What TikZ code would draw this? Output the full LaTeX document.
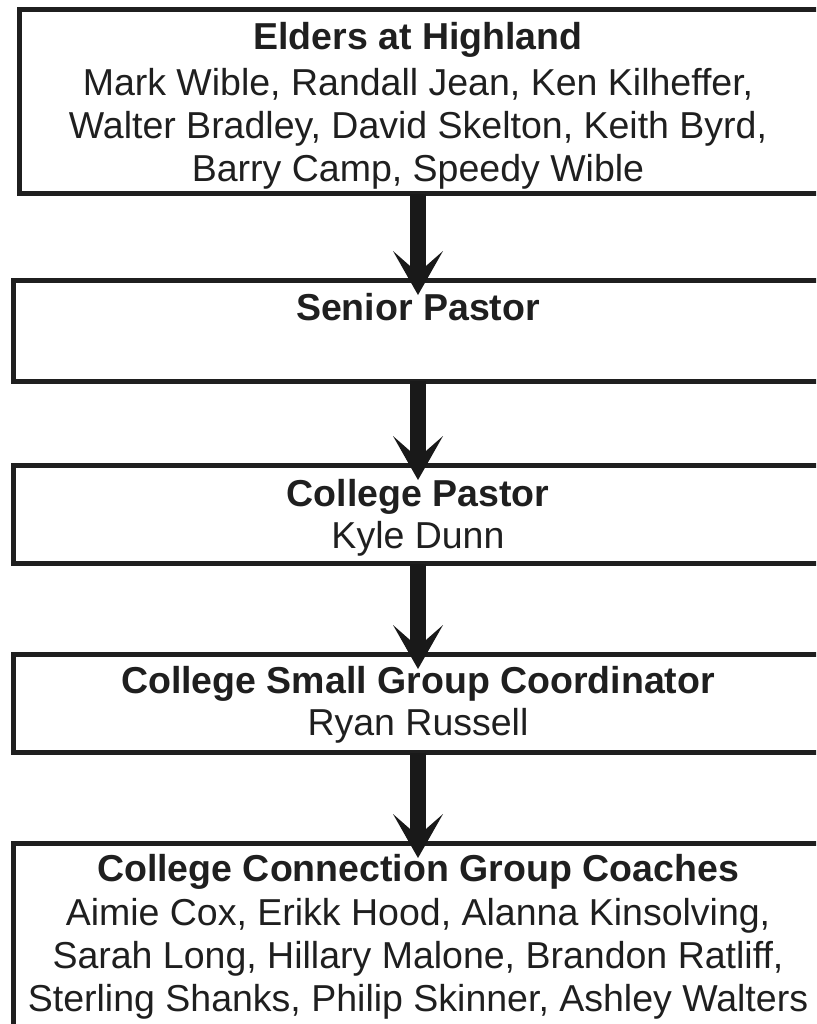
\documentclass[tikz,border=0pt]{standalone}
\usepackage{fontspec}
\setmainfont{Liberation Sans}
\usetikzlibrary{arrows.meta}
\tikzset{
  orgbox/.style={draw=black!88, line width=5pt, rectangle, outer sep=0pt, inner sep=0pt,
    anchor=north west, minimum width=900pt},
  ln/.style={anchor=base, inner sep=0pt, outer sep=0pt, text=black!88,
    font=\fontsize{37.5}{43.5}\selectfont},
  ttl/.style={ln, font=\fontsize{37.5}{43.5}\selectfont\bfseries},
  bigarrow/.style={draw=black!90, line width=16pt,
    -{Stealth[length=44pt 0 0, width=50pt 0 0, inset=22pt 0 0, line width=0pt 0 0]}},
}
\begin{document}
\begin{tikzpicture}[x=1pt,y=-1pt]
\useasboundingbox (0,0) rectangle (816,1024);
\clip (0,0) rectangle (816,1024);
% boxes
\node[orgbox, minimum height=184pt] (b1) at (19.5,10) {};
\node[orgbox, minimum height=101pt] (b2) at (13,280) {};
\node[orgbox, minimum height=98.5pt] (b3) at (13,465) {};
\node[orgbox, minimum height=98.5pt] (b4) at (13,654) {};
\node[orgbox, minimum height=300pt] (b5) at (13,843) {};
% texts
\node[ttl] (t1a) at (418,50) {Elders at Highland};
\node[ln] (t1b) at (418,96) {Mark Wible, Randall Jean, Ken Kilheffer,};
\node[ln] (t1c) at (418,139) {Walter Bradley, David Skelton, Keith Byrd,};
\node[ln] (t1d) at (418,182) {Barry Camp, Speedy Wible};
\node[ttl] (t2a) at (418,320) {Senior Pastor};
\node[ttl] (t3a) at (418,506) {College Pastor};
\node[ln] (t3b) at (418,548) {Kyle Dunn};
\node[ttl] (t4a) at (418,693) {College Small Group Coordinator};
\node[ln] (t4b) at (418,735) {Ryan Russell};
\node[ttl] (t5a) at (418,881) {College Connection Group Coaches};
\node[ln] (t5b) at (418,925) {Aimie Cox, Erikk Hood, Alanna Kinsolving,};
\node[ln] (t5c) at (418,968) {Sarah Long, Hillary Malone, Brandon Ratliff,};
\node[ln] (t5d) at (418,1011) {Sterling Shanks, Philip Skinner, Ashley Walters};
% arrows
\coordinate (ax) at (418,0);
\draw[bigarrow] (ax |- b1.south) -- ([yshift=-15pt]ax |- b2.north);
\draw[bigarrow] (ax |- b2.south) -- ([yshift=-15pt]ax |- b3.north);
\draw[bigarrow] (ax |- b3.south) -- ([yshift=-15pt]ax |- b4.north);
\draw[bigarrow] (ax |- b4.south) -- ([yshift=-15pt]ax |- b5.north);
\end{tikzpicture}
\end{document}
